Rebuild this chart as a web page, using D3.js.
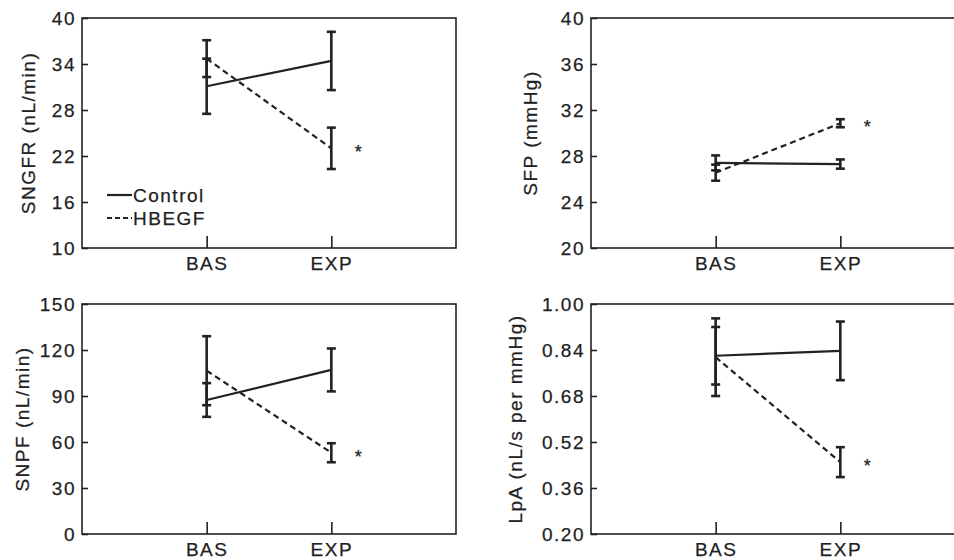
<!DOCTYPE html>
<html>
<head>
<meta charset="utf-8">
<script src="https://cdn.jsdelivr.net/npm/d3@7"></script>
<style>
  body { margin: 0; background: #fff; }
  svg text { font-family: 'Liberation Sans', Arial, sans-serif; fill: #222; stroke: #222; stroke-width: 0.25px; }
</style>
</head>
<body>
<svg id="chart" width="954" height="560"></svg>
<script>
// Categories and series
const groups = ['BAS', 'EXP'];
const series = ['Control', 'HBEGF'];

// SNGFR (nL/min)
const sngfrTicks = [10, 16, 22, 28, 34, 40];
const sngfrControl = [31.1, 34.4];
const sngfrControlErr = [3.6, 3.8];
const sngfrHbegf = [34.7, 23.0];
const sngfrHbegfErr = [2.4, 2.7];

// SFP (mmHg)
const sfpTicks = [20, 24, 28, 32, 36, 40];
const sfpControl = [27.4, 27.3];
const sfpControlErr = [0.65, 0.4];
const sfpHbegf = [26.55, 30.85];
const sfpHbegfErr = [0.7, 0.35];

// SNPF (nL/min)
const snpfTicks = [0, 30, 60, 90, 120, 150];
const snpfControl = [87.4, 107];
const snpfControlErr = [11, 14];
const snpfHbegf = [106.5, 53];
const snpfHbegfErr = [22.5, 6.2];

// LpA (nL/s per mmHg)
const lpaTicks = [0.20, 0.36, 0.52, 0.68, 0.84, 1.00];
const lpaControl = [0.82, 0.837];
const lpaControlErr = [0.10, 0.102];
const lpaHbegf = [0.815, 0.45];
const lpaHbegfErr = [0.135, 0.052];

const panels = [
  { title: 'SNGFR (nL/min)', ticks: sngfrTicks, fmt: d3.format('d'),
    control: sngfrControl, controlErr: sngfrControlErr, hbegf: sngfrHbegf, hbegfErr: sngfrHbegfErr,
    left: 82, top: 18, titleOff: 54, legend: true },
  { title: 'SFP (mmHg)', ticks: sfpTicks, fmt: d3.format('d'),
    control: sfpControl, controlErr: sfpControlErr, hbegf: sfpHbegf, hbegfErr: sfpHbegfErr,
    left: 591, top: 18, titleOff: 61 },
  { title: 'SNPF  (nL/min)', ticks: snpfTicks, fmt: d3.format('d'),
    control: snpfControl, controlErr: snpfControlErr, hbegf: snpfHbegf, hbegfErr: snpfHbegfErr,
    left: 82, top: 304, titleOff: 60 },
  { title: 'LpA (nL/s per mmHg)', ticks: lpaTicks, fmt: d3.format('.2f'),
    control: lpaControl, controlErr: lpaControlErr, hbegf: lpaHbegf, hbegfErr: lpaHbegfErr,
    left: 591, top: 304, titleOff: 76 },
];

const W = 374;
const H = 230;
const ink = '#222';

const svg = d3.select('#chart');

panels.forEach((p) => {
  const g = svg.append('g').attr('transform', `translate(${p.left},${p.top})`);

  const x = d3.scalePoint().domain(groups).range([0, W]).padding(1);
  const y = d3.scaleLinear().domain(d3.extent(p.ticks)).range([H, 0]);

  // frame
  g.append('rect')
    .attr('width', W).attr('height', H)
    .attr('fill', 'none').attr('stroke', ink).attr('stroke-width', 1.6);

  const yAxis = g.append('g')
    .call(d3.axisLeft(y).tickValues(p.ticks).tickFormat(p.fmt).tickSizeInner(-6).tickSizeOuter(0).tickPadding(6));
  const xAxis = g.append('g')
    .attr('transform', `translate(0,${H})`)
    .call(d3.axisBottom(x).tickSizeInner(-12).tickSizeOuter(0).tickPadding(9));

  [yAxis, xAxis].forEach((a) => {
    a.select('.domain').remove();
    a.selectAll('line').attr('stroke', ink).attr('stroke-width', 1.6);
    a.selectAll('text')
      .attr('fill', ink)
      .style('font-size', '19px')
      .style('letter-spacing', '1.5px');
  });

  // y title
  g.append('text')
    .attr('transform', `translate(${-p.titleOff},${H / 2}) rotate(-90)`)
    .attr('text-anchor', 'middle')
    .attr('dominant-baseline', 'central')
    .style('font-size', '19px')
    .style('letter-spacing', '1.5px')
    .text(p.title);

  const line = d3.line().x((d, i) => x(groups[i])).y((d) => y(d));

  const drawSeries = (vals, errs, dash) => {
    g.append('path')
      .datum(vals)
      .attr('d', line)
      .attr('fill', 'none')
      .attr('stroke', ink)
      .attr('stroke-width', 2.2)
      .attr('stroke-dasharray', dash);

    const eb = g.append('g').selectAll('g')
      .data(vals.map((v, i) => ({ g: groups[i], v, e: errs[i] })))
      .join('g')
      .attr('stroke', ink)
      .attr('stroke-width', 2.6);
    eb.append('line')
      .attr('x1', (d) => x(d.g)).attr('x2', (d) => x(d.g))
      .attr('y1', (d) => y(d.v - d.e)).attr('y2', (d) => y(d.v + d.e));
    [-1, 1].forEach((s) => {
      eb.append('line')
        .attr('x1', (d) => x(d.g) - 4.5).attr('x2', (d) => x(d.g) + 4.5)
        .attr('y1', (d) => y(d.v + s * d.e)).attr('y2', (d) => y(d.v + s * d.e));
    });
  };

  drawSeries(p.control, p.controlErr, null);
  drawSeries(p.hbegf, p.hbegfErr, '6,4');

  // significance mark
  g.append('text')
    .attr('x', x('EXP') + 27)
    .attr('y', y(p.hbegf[1]) + 10)
    .attr('text-anchor', 'middle')
    .style('font-size', '18px')
    .text('*');

  if (p.legend) {
    const lg = g.append('g').attr('transform', 'translate(25,177)');
    series.forEach((s, i) => {
      lg.append('line')
        .attr('x1', 0).attr('x2', 25)
        .attr('y1', i * 23).attr('y2', i * 23)
        .attr('stroke', ink).attr('stroke-width', 2.2)
        .attr('stroke-dasharray', i === 0 ? null : '5,3');
      lg.append('text')
        .attr('x', 26).attr('y', i * 23)
        .attr('dominant-baseline', 'central')
        .style('font-size', '19px')
        .style('letter-spacing', '1.5px')
        .text(s);
    });
  }
});
</script>
</body>
</html>
